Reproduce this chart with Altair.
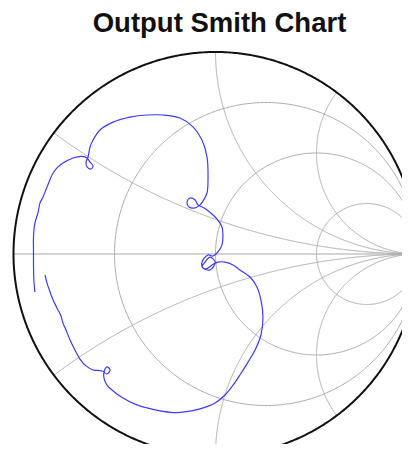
import altair as alt
import numpy as np
import pandas as pd

# ---- data: reflection coefficient trace ----
gamma_re = [-0.894, -0.899, -0.901, -0.901, -0.901, -0.894, -0.879, -0.869, -0.854, -0.834,
            -0.804, -0.780, -0.755, -0.705, -0.661, -0.636, -0.621, -0.606, -0.616, -0.636,
            -0.641, -0.631, -0.621, -0.606, -0.572, -0.507, -0.423, -0.339, -0.260, -0.176,
            -0.111, -0.067, -0.042, -0.037, -0.042, -0.062, -0.077, -0.101, -0.131, -0.141,
            -0.126, -0.101, -0.087, -0.067, -0.042, -0.012, 0.012, 0.032, 0.037, 0.032,
            0.012, -0.012, -0.037, -0.067, -0.062, -0.027, -0.002, -0.027, -0.052, -0.067,
            -0.047, -0.017, 0.012, 0.047, 0.087, 0.121, 0.171, 0.205, 0.225, 0.235, 0.225,
            0.196, 0.161, 0.121, 0.087, 0.047, -0.002, -0.077, -0.151, -0.210, -0.275,
            -0.339, -0.399, -0.458, -0.507, -0.537, -0.552, -0.552, -0.537, -0.522, -0.537,
            -0.562, -0.606, -0.641, -0.671, -0.696, -0.720, -0.740, -0.755, -0.765, -0.785,
            -0.804, -0.819, -0.834, -0.844]
gamma_im = [-0.188, -0.129, -0.054, 0.020, 0.084, 0.153, 0.203, 0.252, 0.282, 0.332,
            0.401, 0.431, 0.450, 0.475, 0.483, 0.475, 0.455, 0.436, 0.421, 0.431,
            0.455, 0.480, 0.530, 0.564, 0.614, 0.653, 0.678, 0.688, 0.688, 0.673,
            0.629, 0.564, 0.480, 0.381, 0.302, 0.262, 0.243, 0.228, 0.233, 0.257,
            0.277, 0.267, 0.243, 0.233, 0.218, 0.193, 0.168, 0.134, 0.094, 0.045,
            0.010, -0.010, -0.005, -0.040, -0.069, -0.079, -0.040, -0.015, -0.040, -0.064,
            -0.074, -0.054, -0.040, -0.040, -0.054, -0.079, -0.114, -0.163, -0.228, -0.312, -0.401,
            -0.475, -0.535, -0.599, -0.649, -0.698, -0.738, -0.767, -0.782, -0.785, -0.777,
            -0.762, -0.743, -0.713, -0.678, -0.649, -0.614, -0.584, -0.559, -0.574, -0.594,
            -0.579, -0.574, -0.554, -0.520, -0.475, -0.426, -0.376, -0.342, -0.307, -0.267,
            -0.228, -0.188, -0.144, -0.104]

# ---- Smith chart grid values ----
r_values = [1 / 3, 1.0, 3.0]
x_values = [1 / 3, 1.0, 2.0, -1 / 3, -1.0, -2.0]

grid_rows = []
th = np.linspace(0, 2 * np.pi, 721)
for k, r in enumerate(r_values):
    c, rad = r / (1 + r), 1 / (1 + r)
    for i, t in enumerate(th):
        grid_rows.append({"g": f"r{k}", "i": i, "re": c + rad * np.cos(t), "im": rad * np.sin(t)})
phi = np.linspace(0, np.pi / 2 * 0.9995, 800)
s = np.tan(phi)
for k, x in enumerate(x_values):
    z = s + 1j * x
    G = (z - 1) / (z + 1)
    for i, gg in enumerate(G):
        grid_rows.append({"g": f"x{k}", "i": i, "re": gg.real, "im": gg.imag})
grid_rows.append({"g": "axis", "i": 0, "re": -1.0, "im": 0.0})
grid_rows.append({"g": "axis", "i": 1, "re": 1.0, "im": 0.0})
grid_df = pd.DataFrame(grid_rows)

outer_df = pd.DataFrame({"i": np.arange(len(th)), "re": np.cos(th), "im": np.sin(th)})
trace_df = pd.DataFrame({"i": np.arange(len(gamma_re)), "re": gamma_re, "im": gamma_im})

xs = alt.Scale(domain=[-1.02723, 0.92327], nice=False, zero=False)
ys = alt.Scale(domain=[-0.9406, 1.0396], nice=False, zero=False)

grid = alt.Chart(grid_df).mark_line(color="#a9a9a9", strokeWidth=1, clip=True).encode(
    x=alt.X("re:Q", scale=xs, axis=None),
    y=alt.Y("im:Q", scale=ys, axis=None),
    detail="g:N",
    order="i:Q",
)
outer = alt.Chart(outer_df).mark_line(color="#111111", strokeWidth=2, clip=True).encode(
    x=alt.X("re:Q", scale=xs, axis=None),
    y=alt.Y("im:Q", scale=ys, axis=None),
    order="i:Q",
)
trace = alt.Chart(trace_df).mark_line(color="#3b3bff", strokeWidth=1.2, clip=True,
                                      interpolate="catmull-rom").encode(
    x=alt.X("re:Q", scale=xs, axis=None),
    y=alt.Y("im:Q", scale=ys, axis=None),
    order="i:Q",
)

chart = alt.layer(grid, outer, trace).properties(
    width=394,
    height=400,
    title=alt.TitleParams("Output Smith Chart", font="Liberation Sans", fontSize=27.5,
                          fontWeight="bold", color="#111111", anchor="middle",
                          dx=14.5, dy=-3, offset=4),
    padding={"left": 0, "top": 36, "right": 0, "bottom": 0},
    autosize=alt.AutoSizeParams(type="none"),
    background="white",
).configure_view(stroke=None)

chart.save("out.html", embed_options={"renderer": "svg", "actions": False})
